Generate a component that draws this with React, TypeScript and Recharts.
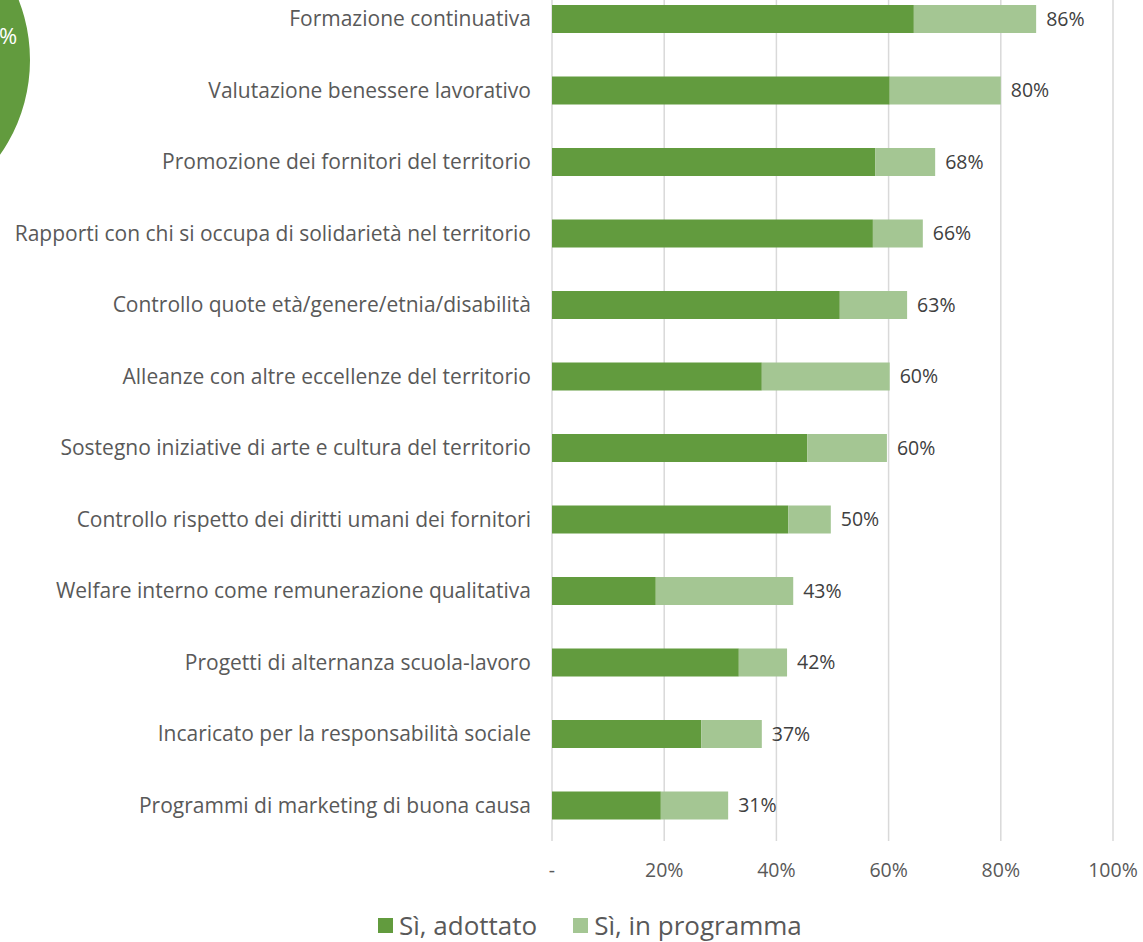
import { BarChart, Bar, XAxis, YAxis, CartesianGrid, Legend, LabelList, PieChart, Pie, Cell } from 'recharts'

const categories = [
  'Formazione continuativa',
  'Valutazione benessere lavorativo',
  'Promozione dei fornitori del territorio',
  'Rapporti con chi si occupa di solidarietà nel territorio',
  'Controllo quote età/genere/etnia/disabilità',
  'Alleanze con altre eccellenze del territorio',
  'Sostegno iniziative di arte e cultura del territorio',
  'Controllo rispetto dei diritti umani dei fornitori',
  'Welfare interno come remunerazione qualitativa',
  'Progetti di alternanza scuola-lavoro',
  'Incaricato per la responsabilità sociale',
  'Programmi di marketing di buona causa',
]
const adottato = [64.5, 60.2, 57.6, 57.2, 51.3, 37.4, 45.5, 42.1, 18.5, 33.3, 26.6, 19.4]
const inProgramma = [21.8, 19.8, 10.7, 8.9, 12.0, 22.8, 14.2, 7.6, 24.5, 8.6, 10.8, 12.0]
const xTicks = [0, 20, 40, 60, 80, 100]

const DARK = '#629B3E'
const LIGHT = '#A4C693'
const FONT = '"Open Sans", sans-serif'

const data = categories.map((name, i) => ({
  name,
  adottato: adottato[i],
  inProgramma: inProgramma[i],
  total: adottato[i] + inProgramma[i],
}))

function LegendContent() {
  const item = (color: string, label: string) => (
    <div style={{ display: 'flex', alignItems: 'center', marginRight: 36 }}>
      <div style={{ width: 15, height: 15, background: color, marginRight: 6 }} />
      <span style={{ fontSize: 26, lineHeight: '32px', color: '#595959', fontFamily: FONT }}>{label}</span>
    </div>
  )
  return (
    <div style={{ display: 'flex', alignItems: 'center', height: 40 }}>
      {item(DARK, 'Sì, adottato')}
      {item(LIGHT, 'Sì, in programma')}
    </div>
  )
}

export default function App() {
  return (
    <div style={{ position: 'absolute', left: 0, top: 0, width: 1143, height: 942, overflow: 'hidden', background: '#fff' }}>
      <div style={{ position: 'absolute', left: 0, top: 0 }}>
        <PieChart width={60} height={200} margin={{ top: 0, right: 0, bottom: 0, left: 0 }}>
          <Pie data={[{ v: 1 }]} dataKey="v" cx={-135} cy={60} outerRadius={165} stroke="none" isAnimationActive={false}>
            <Cell fill={DARK} />
          </Pie>
        </PieChart>
        <span style={{ position: 'absolute', left: -1, top: 20, color: '#fff', fontSize: 22, fontFamily: FONT }}>%</span>
      </div>
      <div style={{ position: 'absolute', left: 0, top: -40 }}>
        <BarChart width={1143} height={1000} data={data} layout="vertical" barSize={28}
          margin={{ top: 23, right: 30, bottom: 39, left: 0 }}>
          <CartesianGrid horizontal={false} stroke="#D9D9D9" strokeWidth={1.5} />
          <XAxis type="number" domain={[0, 100]} ticks={xTicks} axisLine={false} tickLine={false}
            tickMargin={16} height={40}
            tick={{ fill: '#595959', fontSize: 19.5, fontFamily: FONT }}
            tickFormatter={(v) => (v === 0 ? '-' : `${v}%`)} />
          <YAxis type="category" dataKey="name" width={552} axisLine={false} tickLine={false}
            tickSize={0} tickMargin={21} interval={0}
            tick={{ fill: '#595959', fontSize: 21, fontFamily: FONT }} />
          <Legend content={<LegendContent />} wrapperStyle={{ bottom: 15, left: 378, width: 'auto' }} />
          <Bar dataKey="adottato" stackId="a" fill={DARK} name="Sì, adottato" isAnimationActive={false} />
          <Bar dataKey="inProgramma" stackId="a" fill={LIGHT} name="Sì, in programma" isAnimationActive={false}>
            <LabelList dataKey="total" position="right" offset={10} fill="#404040" fontSize={19.5}
              fontFamily={FONT} formatter={(v: any) => `${Math.round(Number(v))}%`} />
          </Bar>
        </BarChart>
      </div>
    </div>
  )
}
